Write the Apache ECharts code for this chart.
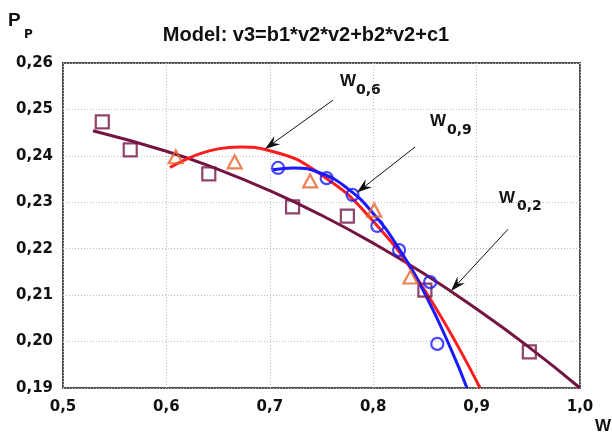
<!DOCTYPE html>
<html><head><meta charset="utf-8">
<script src="https://cdn.jsdelivr.net/npm/echarts/dist/echarts.min.js"></script>
<style>html,body{margin:0;padding:0;background:#fff}#c{width:612px;height:435px}</style>
</head><body><div id="c"></div>
<script>
// ---- data ----
const titleText = 'Model: v3=b1*v2*v2+b2*v2+c1';
const xRange = [0.5, 1.0];
const yRange = [0.19, 0.26];
// experimental points
const squaresW02 = [[0.538,0.2473],[0.565,0.2413],[0.641,0.2361],[0.722,0.2290],[0.775,0.2270],[0.850,0.2111],[0.951,0.1978]];
const trianglesW06 = [[0.609,0.2398],[0.666,0.2387],[0.739,0.2346],[0.801,0.2283],[0.836,0.2139]];
const circlesW09 = [[0.708,0.2374],[0.755,0.2352],[0.780,0.2316],[0.804,0.2249],[0.825,0.2197],[0.855,0.2128],[0.862,0.1995]];
// fitted curves
const curveW02 = [[0.529,0.2454],[0.6,0.2410],[0.65,0.2371],[0.7,0.2325],[0.75,0.2272],[0.8,0.2212],[0.85,0.2145],[0.9,0.2070],[0.95,0.1989],[1.0,0.19]];
const curveW06 = [[0.6035,0.2375],[0.65,0.2415],[0.671,0.2419],[0.7,0.2411],[0.75,0.2359],[0.8,0.2259],[0.85,0.2110],[0.9033,0.19]];
const curveW09 = [[0.7031,0.2370],[0.723,0.2374],[0.75,0.2362],[0.775,0.2330],[0.8,0.2276],[0.825,0.2200],[0.85,0.2103],[0.875,0.1985],[0.8907,0.19]];
// annotation arrows: [fromX, fromY, toX, toY]
const arrowsData = [[0.7611,0.2520,0.6954,0.2415],[0.8404,0.2419,0.7843,0.2321],[0.9304,0.2242,0.8752,0.2109]];

const C_MAROON = '#731443', C_RED = '#ff1c1c', C_BLUE = '#1a1aff', C_ORANGE = '#e8642a';
const tickFont = {fontFamily:'DejaVu Sans', fontWeight:'bold', fontSize:15, color:'#111'};

function lineSeries(data, color){
  return {type:'line', data:data, smooth:true, showSymbol:false, symbol:'none',
    lineStyle:{color:color, width:3}, itemStyle:{color:color}, z:2};
}
function scatter(data, symbol, size, color, z){
  return {type:'scatter', data:data, symbol:symbol, symbolSize:size, z:z,
    itemStyle:{color:'rgba(0,0,0,0)', borderColor:color, borderWidth:2.2}};
}
function txt(left, top, text, font){
  return {type:'text', left:left, top:top, style:{text:text, font:font, fill:'#111'}};
}
function renderArrow(params, api){
  const p0 = api.coord([api.value(0), api.value(1)]);
  const p1 = api.coord([api.value(2), api.value(3)]);
  const dx = p1[0]-p0[0], dy = p1[1]-p0[1];
  const len = Math.hypot(dx, dy), ux = dx/len, uy = dy/len, nx = -uy, ny = ux;
  const L = 15, W = 5, N = 10;
  const base = [p1[0]-ux*L, p1[1]-uy*L];
  const notch = [p1[0]-ux*N, p1[1]-uy*N];
  return {type:'group', children:[
    {type:'line', shape:{x1:p0[0], y1:p0[1], x2:notch[0], y2:notch[1]}, style:{stroke:'#111', lineWidth:1}},
    {type:'polygon', shape:{points:[p1, [base[0]+nx*W, base[1]+ny*W], notch, [base[0]-nx*W, base[1]-ny*W]]}, style:{fill:'#111'}}
  ]};
}

const chart = echarts.init(document.getElementById('c'), null, {renderer:'canvas'});
chart.setOption({
  animation:false,
  backgroundColor:'#fff',
  title:{text:titleText, left:'center', top:20,
    textStyle:{fontFamily:'Liberation Sans', fontWeight:'bold', fontSize:20, color:'#111'}},
  grid:{left:63, right:32, top:63, bottom:47, show:true, borderColor:'#555', borderWidth:2, backgroundColor:'#fff'},
  xAxis:{type:'value', min:xRange[0], max:xRange[1], interval:0.1,
    axisLine:{show:false}, axisTick:{show:false},
    axisLabel:Object.assign({margin:12, formatter:v=>v.toFixed(1).replace('.',',')}, tickFont),
    splitLine:{show:true, lineStyle:{color:'#bdbdbd', type:[1,2], width:1}}},
  yAxis:{type:'value', min:yRange[0], max:yRange[1], interval:0.01,
    axisLine:{show:false}, axisTick:{show:false},
    axisLabel:Object.assign({margin:10, formatter:v=>v.toFixed(2).replace('.',',')}, tickFont),
    splitLine:{show:true, lineStyle:{color:'#bdbdbd', type:[1,2], width:1}}},
  series:[
    lineSeries(curveW02, C_MAROON),
    lineSeries(curveW06, C_RED),
    lineSeries(curveW09, C_BLUE),
    scatter(squaresW02, 'rect', 13, C_MAROON, 3),
    scatter(trianglesW06, 'triangle', [14,13], C_ORANGE, 3),
    scatter(circlesW09, 'circle', 12, C_BLUE, 4),
    {type:'custom', data:arrowsData, renderItem:renderArrow, clip:false, silent:true, z:5}
  ],
  graphic:[
    txt(8, 11, 'P', 'bold 19px "Liberation Sans"'),
    txt(24, 29, 'P', 'bold 12px "DejaVu Sans"'),
    txt(595, 418, 'W', 'bold 17px "Liberation Sans"'),
    txt(340, 73, 'W', 'bold 17px "Liberation Sans"'),
    txt(356, 83, '0,6', 'bold 14px "DejaVu Sans"'),
    txt(430, 113, 'W', 'bold 17px "Liberation Sans"'),
    txt(447, 123, '0,9', 'bold 14px "DejaVu Sans"'),
    txt(499, 190, 'W', 'bold 17px "Liberation Sans"'),
    txt(517, 199, '0,2', 'bold 14px "DejaVu Sans"')
  ]
});
</script></body></html>
